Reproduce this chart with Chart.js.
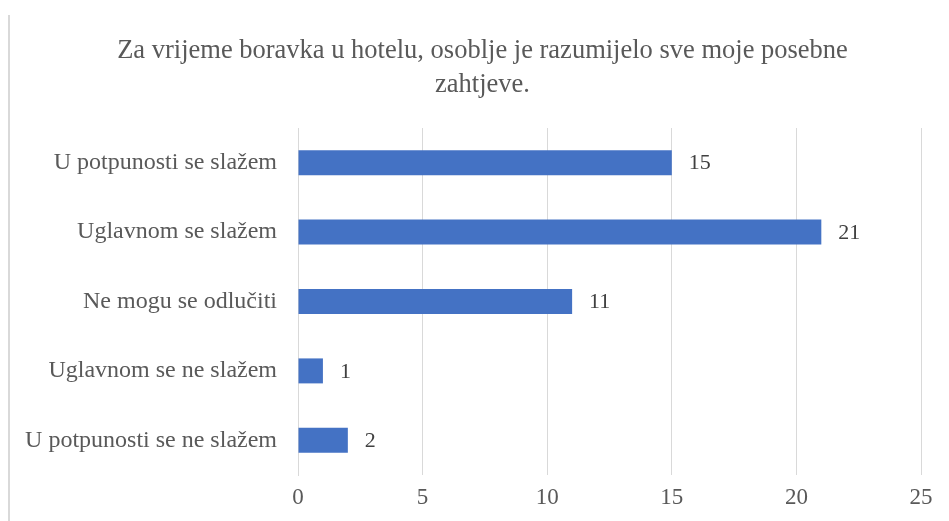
<!DOCTYPE html>
<html>
<head>
<meta charset="utf-8">
<script src="https://cdn.jsdelivr.net/npm/chart.js@4"></script>
<style>
  body { margin: 0; background: #fff; }
  #wrap { position: relative; width: 949px; height: 521px; }
  #edge { position: absolute; left: 8px; top: 15px; height: 506px; border-left: 2px solid #d9d9d9; }
</style>
</head>
<body>
<div id="wrap">
  <canvas id="chart" width="949" height="521"></canvas>
  <div id="edge"></div>
</div>
<script>
const categories = [
  'U potpunosti se slažem',
  'Uglavnom se slažem',
  'Ne mogu se odlučiti',
  'Uglavnom se ne slažem',
  'U potpunosti se ne slažem'
];
const values = [15, 21, 11, 1, 2];
const xTicks = [0, 5, 10, 15, 20, 25];
const titleLines = ['Za vrijeme boravka u hotelu, osoblje je razumijelo sve moje posebne', 'zahtjeve.'];

const serif = '"Liberation Serif", "Times New Roman", serif';

// draws the value next to the end of each bar
const barValues = {
  id: 'barValues',
  afterDatasetsDraw(chart) {
    const ctx = chart.ctx;
    const meta = chart.getDatasetMeta(0);
    ctx.save();
    ctx.font = '22px ' + serif;
    ctx.fillStyle = '#404040';
    ctx.textAlign = 'left';
    ctx.textBaseline = 'middle';
    meta.data.forEach((bar, i) => {
      ctx.fillText(String(chart.data.datasets[0].data[i]), bar.x + 17, bar.y + 1);
    });
    ctx.restore();
  }
};

// title centred over the whole frame (the frame starts a bit right of the canvas edge)
const frameTitle = {
  id: 'frameTitle',
  afterDraw(chart) {
    const ctx = chart.ctx;
    ctx.save();
    ctx.font = '26.5px ' + serif;
    ctx.fillStyle = '#595959';
    ctx.textAlign = 'center';
    ctx.textBaseline = 'middle';
    const cx = chart.width / 2 + 8;
    titleLines.forEach((line, i) => ctx.fillText(line, cx, 51 + i * 34));
    ctx.restore();
  }
};

const ctx = document.getElementById('chart').getContext('2d');
window.myChart = new Chart(ctx, {
  type: 'bar',
  data: {
    labels: categories,
    datasets: [{
      data: values,
      backgroundColor: '#4472C4',
      barPercentage: 0.36,
      categoryPercentage: 1
    }]
  },
  options: {
    indexAxis: 'y',
    responsive: false,
    animation: false,
    layout: { padding: { left: 0, right: 28, top: 128, bottom: 0 } },
    plugins: {
      legend: { display: false },
      tooltip: { enabled: false },
      title: { display: false }
    },
    scales: {
      x: {
        min: 0,
        max: 25,
        afterBuildTicks: s => { s.ticks = xTicks.map(v => ({ value: v })); },
        afterFit: s => { s.height = 46; },
        grid: { color: '#d9d9d9', lineWidth: 1, drawTicks: false },
        border: { display: false },
        ticks: {
          color: '#595959',
          padding: 9,
          font: { family: serif, size: 23 }
        }
      },
      y: {
        afterFit: s => { s.width = 298; },
        grid: { display: false, drawTicks: false },
        border: { display: true, color: '#d9d9d9', width: 1 },
        ticks: {
          color: '#595959',
          padding: 21,
          font: { family: serif, size: 24 }
        }
      }
    }
  },
  plugins: [barValues, frameTitle]
});
</script>
</body>
</html>
